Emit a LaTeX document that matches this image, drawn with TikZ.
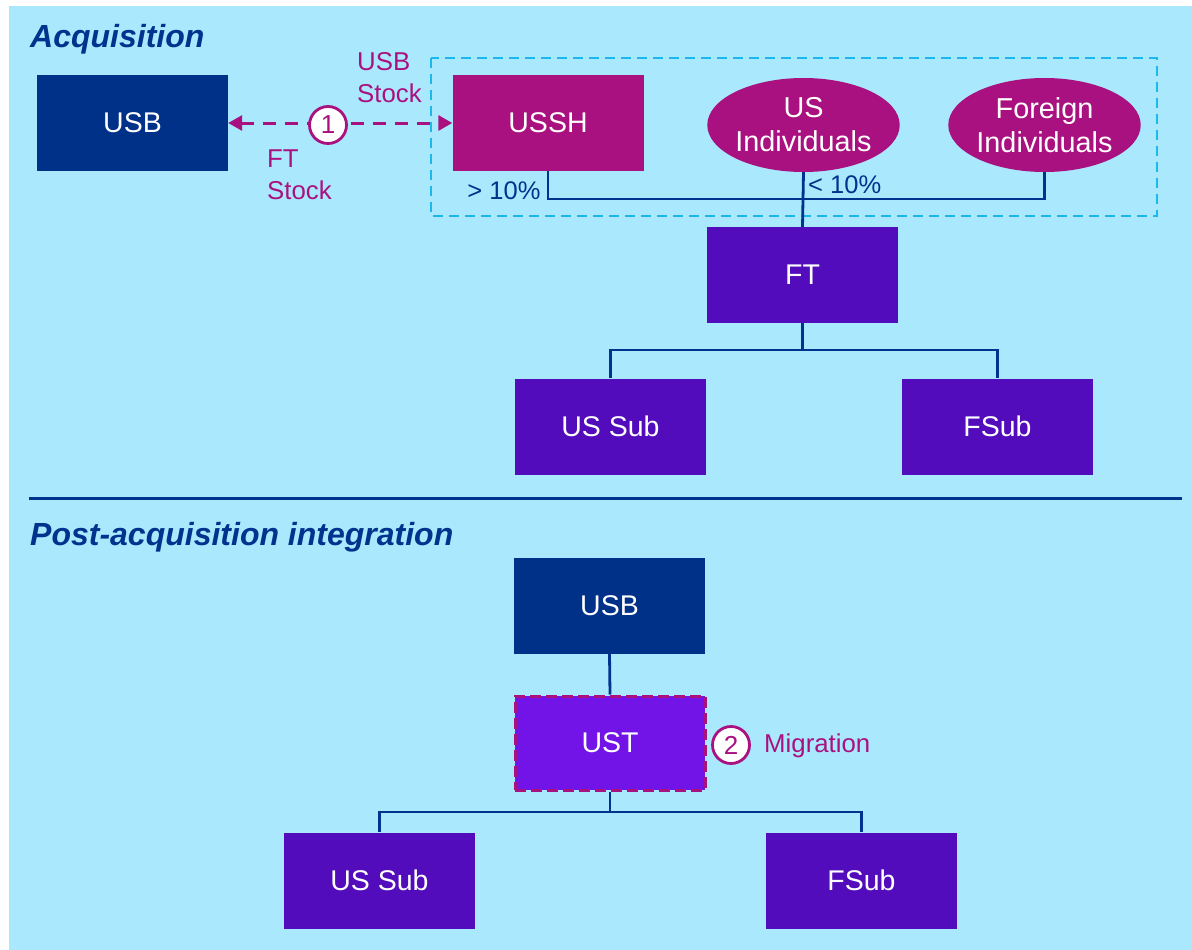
\documentclass[tikz,border=0pt]{standalone}
\usepackage{fontspec}
\setmainfont{Liberation Sans}
\usetikzlibrary{arrows.meta,shapes.geometric}

\definecolor{bgblue}{HTML}{AAE9FD}
\definecolor{navy}{HTML}{00338D}
\definecolor{boxnavy}{HTML}{003189}
\definecolor{magenta}{HTML}{AA1180}
\definecolor{entpurple}{HTML}{520CBB}
\definecolor{newpurple}{HTML}{7213E8}
\definecolor{groupblue}{HTML}{1AB8EC}

\tikzset{
  ent/.style={rectangle, minimum width=191pt, minimum height=96pt, inner sep=0pt,
    text=white, font=\fontsize{28.5}{32}\selectfont},
  holder/.style={ellipse, fill=magenta, minimum width=191pt, minimum height=94pt,
    inner sep=0pt, text=white, align=center, font=\fontsize{28.8}{34}\selectfont},
  conn/.style={draw=navy, line width=2.8pt},
  steplabel/.style={circle, draw=magenta, fill=white, line width=2.8pt,
    minimum size=37pt, inner sep=0pt, text=magenta, font=\fontsize{26}{28}\selectfont},
  note/.style={text=magenta, inner sep=0pt, align=left, font=\fontsize{25.8}{32}\selectfont},
  pct/.style={text=navy, inner sep=0pt, font=\fontsize{25.5}{28}\selectfont},
  heading/.style={text=navy, inner sep=0pt, anchor=base west,
    font=\fontsize{32}{36}\selectfont\bfseries\itshape}
}

\begin{document}
\begin{tikzpicture}[x=1pt, y=-1pt]
  \useasboundingbox (0,0) rectangle (1192,950);
  \fill[bgblue] (9,6) rectangle (1192,950);

  % ---- Acquisition ----
  \node[heading] (h1) at (30,48) {Acquisition};

  \draw[groupblue, line width=2.8pt, dash pattern=on 10pt off 6pt] (431,58) rectangle (1157,216);

  \node[ent, fill=boxnavy] (usbA) at (132.5,123) {USB};
  \node[ent, fill=magenta] (ussh) at (548,123) {USSH};
  \node[holder] (usind) at (803.5,125) {US\\Individuals};
  \node[holder] (fgind) at (1044.5,125) {Foreign\\Individuals};
  \node[ent, fill=entpurple] (ft) at (802.5,275) {FT};
  \node[ent, fill=entpurple] (subA) at (610.5,426.5) {US Sub};
  \node[ent, fill=entpurple] (fsubA) at (997.5,426.5) {FSub};

  % share exchange
  \draw[magenta, line width=3pt, dash pattern=on 13pt off 9pt,
    {Triangle[length=14pt,width=15pt]}-{Triangle[length=14pt,width=15pt]}]
    (usbA.east) -- (ussh.west);
  \node[steplabel] (s1) at (328,125) {1};
  \node[note, anchor=west] (usbstock) at (357,78) {USB\\Stock};
  \node[note, anchor=west] (ftstock) at (267,175) {FT\\Stock};

  % ownership of FT
  \coordinate (ownbar) at (0,199);
  \draw[conn] (ussh.south) |- (ownbar -| fgind.south) -- (fgind.south);
  \draw[conn] (usind.south) -- (ft.north);
  \node[pct] (gt10) at (504,191) {> 10\%};
  \node[pct, anchor=west] (lt10) at (808,185) {< 10\%};

  % FT subsidiaries
  \coordinate (ftbar) at (0,350);
  \draw[conn] (ft.south) -- (ft.south |- ftbar);
  \draw[conn] (subA.north) |- (ftbar -| fsubA.north) -- (fsubA.north);

  % divider
  \draw[navy, line width=2.4pt] (29,498.5) -- (1182,498.5);

  % ---- Post-acquisition integration ----
  \node[heading] (h2) at (30,545) {Post-acquisition integration};

  \node[ent, fill=boxnavy] (usbB) at (609.5,605.5) {USB};
  \node[ent, fill=newpurple, draw=magenta, line width=3pt,
    dash pattern=on 11pt off 5pt, minimum width=190pt, minimum height=94pt] (ust) at (610,743) {UST};
  \node[ent, fill=entpurple] (subB) at (379.5,880.5) {US Sub};
  \node[ent, fill=entpurple] (fsubB) at (861.5,880.5) {FSub};

  \draw[conn] (usbB.south) -- (ust.north);
  \coordinate (ustbar) at (0,812);
  \draw[conn] (ust.south) -- (ust.south |- ustbar);
  \draw[conn] (subB.north) |- (ustbar -| fsubB.north) -- (fsubB.north);

  \node[steplabel] (s2) at (731,745) {2};
  \node[note, anchor=west] (migr) at (764,746) {Migration};
\end{tikzpicture}
\end{document}
